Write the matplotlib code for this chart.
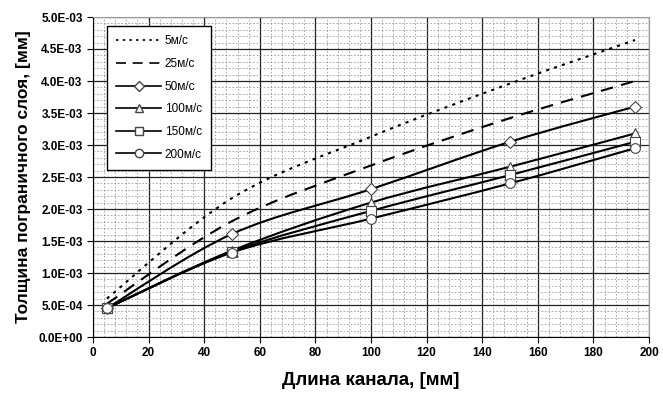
import matplotlib
matplotlib.use('Agg')
import matplotlib.pyplot as plt
from matplotlib.path import Path
from matplotlib.patches import PathPatch
from matplotlib.lines import Line2D
from matplotlib.ticker import MultipleLocator, FuncFormatter

plt.rcParams['font.family'] = ['Liberation Sans', 'DejaVu Sans']

# Длина канала, мм
length = [5, 50, 100, 150, 195]

# Толщина пограничного слоя, мм (по скоростям)
v5 = [0.60e-3, 2.17e-3, 3.13e-3, 3.96e-3, 4.64e-3]
v25 = [0.52e-3, 1.81e-3, 2.68e-3, 3.42e-3, 4.00e-3]
v50 = [0.45e-3, 1.61e-3, 2.31e-3, 3.05e-3, 3.60e-3]
v100 = [0.45e-3, 1.35e-3, 2.10e-3, 2.66e-3, 3.18e-3]
v150 = [0.45e-3, 1.33e-3, 1.97e-3, 2.53e-3, 3.05e-3]
v200 = [0.45e-3, 1.32e-3, 1.85e-3, 2.40e-3, 2.95e-3]

labels = ['5м/с', '25м/с', '50м/с', '100м/с', '150м/с', '200м/с']
series = [v5, v25, v50, v100, v150, v200]
styles = [(0, (1.5, 2.5)), (0, (6, 4)), '-', '-', '-', '-']
markers = [None, None, 'D', '^', 's', 'o']
msizes = [0, 0, 6, 7, 7, 7]


def smooth_path(xs, ys):
    # excel-like smoothed line: cubic bezier through the points
    pts = list(zip(xs, ys))
    n = len(pts)
    verts = [pts[0]]
    codes = [Path.MOVETO]
    for i in range(n - 1):
        p0 = pts[i - 1] if i > 0 else pts[i]
        p1 = pts[i]
        p2 = pts[i + 1]
        p3 = pts[i + 2] if i + 2 < n else pts[i + 1]
        c1 = (p1[0] + (p2[0] - p0[0]) / 6, p1[1] + (p2[1] - p0[1]) / 6)
        c2 = (p2[0] - (p3[0] - p1[0]) / 6, p2[1] - (p3[1] - p1[1]) / 6)
        verts += [c1, c2, p2]
        codes += [Path.CURVE4] * 3
    return Path(verts, codes)


fig = plt.figure(figsize=(6.63, 3.97), dpi=100)
ax = fig.add_axes([93 / 663, 60 / 397, 556 / 663, 320 / 397])

ax.set_xlim(0, 200)
ax.set_ylim(0, 5e-3)
ax.xaxis.set_major_locator(MultipleLocator(20))
ax.xaxis.set_minor_locator(MultipleLocator(4))
ax.yaxis.set_major_locator(MultipleLocator(0.5e-3))
ax.yaxis.set_minor_locator(MultipleLocator(0.1e-3))
ax.yaxis.set_major_formatter(FuncFormatter(lambda v, p: f'{v:.1E}'))

ax.grid(which='minor', color='#8a8a8a', linestyle=(0, (2.5, 2.5)), linewidth=0.5)
ax.grid(which='major', color='#222222', linestyle='-', linewidth=0.9)
ax.set_axisbelow(True)
ax.tick_params(which='minor', length=0)
ax.tick_params(which='major', direction='out', length=4, width=0.8, labelsize=8.5)
for lab in ax.get_xticklabels() + ax.get_yticklabels():
    lab.set_fontweight('bold')

for sp in ['top', 'right']:
    ax.spines[sp].set_color('#999999')
for sp in ['left', 'bottom']:
    ax.spines[sp].set_color('black')

handles = []
for ys, ls, mk, ms, lab in zip(series, styles, markers, msizes, labels):
    patch = PathPatch(smooth_path(length, ys), fill=False, edgecolor='black',
                      linewidth=1.5, linestyle=ls, zorder=3)
    ax.add_patch(patch)
    if mk:
        ax.plot(length, ys, linestyle='none', marker=mk, markersize=ms,
                markerfacecolor='white', markeredgecolor='#444444',
                markeredgewidth=0.8, zorder=4)
    handles.append(Line2D([], [], color='black', linewidth=1.2, linestyle=ls,
                          marker=mk, markersize=ms - 1 if mk else 0,
                          markerfacecolor='white', markeredgecolor='#444444'))

leg = ax.legend(handles, labels, loc='upper left', bbox_to_anchor=(0.025, 0.972),
                borderaxespad=0, numpoints=1, fontsize=8.5, handlelength=3.8,
                labelspacing=0.9, handletextpad=0.3, fancybox=False,
                framealpha=1, edgecolor='black', borderpad=0.8)
leg.get_frame().set_linewidth(1.0)

ax.set_xlabel('Длина канала, [мм]', fontsize=13.5, fontweight='bold', labelpad=9)
ax.set_ylabel('Толщина пограничного слоя, [мм]', fontsize=12.5, fontweight='bold', labelpad=5)

fig.savefig('out.png', dpi=100)
